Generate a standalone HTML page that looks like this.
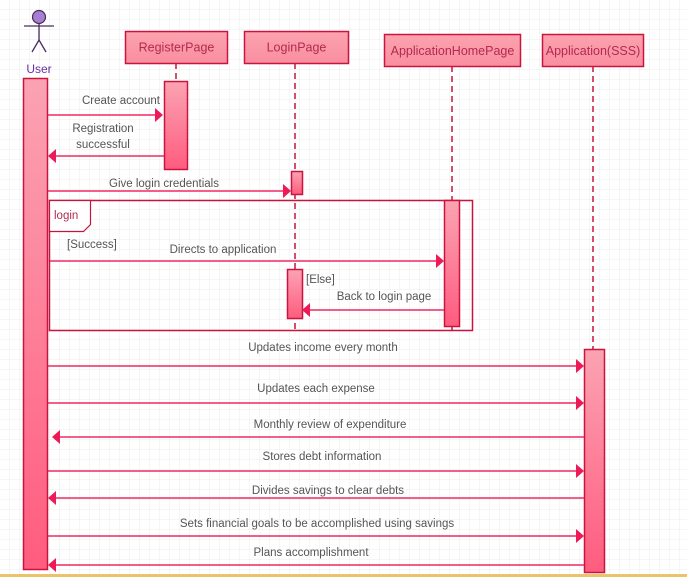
<!DOCTYPE html>
<html><head><meta charset="utf-8"><style>
html,body{margin:0;padding:0;background:#fff;}
svg{display:block;}
text{font-family:"Liberation Sans",sans-serif;font-size:11.5px;fill:#555;}
.h{font-size:12.5px;fill:#b5294d;}
</style></head><body>
<svg width="687" height="577" viewBox="0 0 687 577" xmlns="http://www.w3.org/2000/svg">
<defs>
<pattern id="g" width="10" height="10" patternUnits="userSpaceOnUse">
<path d="M10 0V10H0" fill="none" stroke="#ececec" stroke-width="1"/>
</pattern>
<linearGradient id="act" x1="0" y1="0" x2="0" y2="1">
<stop offset="0" stop-color="#fba3b2"/><stop offset="1" stop-color="#ff5c7f"/>
</linearGradient>
<linearGradient id="box" x1="0" y1="0" x2="0" y2="1">
<stop offset="0" stop-color="#fca3b0"/><stop offset="1" stop-color="#f98ea0"/>
</linearGradient>
</defs>
<rect width="687" height="577" fill="url(#g)"/>
<rect x="0" y="574" width="687" height="3" fill="#e9c46a"/>

<circle cx="39" cy="17" r="6.5" fill="#a77fd0" stroke="#4a2d5e" stroke-width="1.2"/>
<g stroke="#4a2d5e" stroke-width="1.3" fill="none">
<line x1="39" y1="23.5" x2="39" y2="40"/><line x1="24" y1="26" x2="54" y2="26"/>
<line x1="39" y1="40" x2="32" y2="52"/><line x1="39" y1="40" x2="46" y2="52"/>
</g>
<text x="39" y="73" text-anchor="middle" style="fill:#6a2ea8;font-size:12px">User</text>

<g stroke="#c8143f" stroke-width="1.5" stroke-dasharray="6,4">
<line x1="176" y1="63" x2="176" y2="172"/>
<line x1="295" y1="63" x2="295" y2="330"/>
<line x1="452" y1="66" x2="452" y2="330"/>
<line x1="593" y1="66" x2="593" y2="350"/>
</g>

<g stroke="#c8143f" stroke-width="1.5" fill="url(#box)">
<rect x="125.5" y="31.5" width="102" height="32"/>
<rect x="244.5" y="31.5" width="104" height="32"/>
<rect x="384.5" y="34.5" width="136" height="32"/>
<rect x="542.5" y="34.5" width="101" height="32"/>
</g>
<text class="h" x="176.5" y="51.5" text-anchor="middle">RegisterPage</text>
<text class="h" x="296.5" y="51.5" text-anchor="middle">LoginPage</text>
<text class="h" x="452.5" y="55" text-anchor="middle">ApplicationHomePage</text>
<text class="h" x="593" y="55" text-anchor="middle">Application(SSS)</text>

<rect x="49.5" y="200.5" width="423" height="130" fill="none" stroke="#c8143f" stroke-width="1.5"/>
<path d="M49.5 200.5H90.5V224.5L83.5 231.5H49.5Z" fill="#fff" stroke="#c8143f" stroke-width="1.2"/>
<text x="54" y="219" style="fill:#b5294d">login</text>

<g stroke="#c8143f" stroke-width="1.5" fill="url(#act)">
<rect x="23.5" y="78.5" width="24" height="491"/>
<rect x="164.5" y="81.5" width="23" height="88"/>
<rect x="291.5" y="171.5" width="11" height="23"/>
<rect x="444.5" y="200.5" width="15" height="126"/>
<rect x="287.5" y="269.5" width="15" height="49"/>
<rect x="584.5" y="349.5" width="20" height="223"/>
</g>

<g stroke="#ee2a63" stroke-width="1.5" fill="none">
<line x1="48" y1="115" x2="158" y2="115"/>
<line x1="164" y1="156" x2="56" y2="156"/>
<line x1="48" y1="191" x2="285" y2="191"/>
<line x1="50" y1="261" x2="438" y2="261"/>
<line x1="444" y1="310" x2="309" y2="310"/>
<line x1="48" y1="366" x2="578" y2="366"/>
<line x1="48" y1="403" x2="578" y2="403"/>
<line x1="584" y1="437" x2="60" y2="437"/>
<line x1="48" y1="471" x2="578" y2="471"/>
<line x1="584" y1="498" x2="56" y2="498"/>
<line x1="48" y1="536" x2="578" y2="536"/>
<line x1="584" y1="565" x2="56" y2="565"/>
</g>
<g fill="#ee1a57">
<path d="M163 115l-8-7v14z"/>
<path d="M48 156l8-7v14z"/>
<path d="M291 191l-8-7v14z"/>
<path d="M444 261l-8-7v14z"/>
<path d="M302 310l8-7v14z"/>
<path d="M584 366l-8-7v14z"/>
<path d="M584 403l-8-7v14z"/>
<path d="M52 437l8-7v14z"/>
<path d="M584 471l-8-7v14z"/>
<path d="M48 498l8-7v14z"/>
<path d="M584 536l-8-7v14z"/>
<path d="M48 565l8-7v14z"/>
</g>

<text x="121" y="104" text-anchor="middle">Create account</text>
<text x="103" y="132" text-anchor="middle">Registration</text>
<text x="103" y="148" text-anchor="middle">successful</text>
<text x="164" y="187" text-anchor="middle">Give login credentials</text>
<text x="67" y="248">[Success]</text>
<text x="223" y="253" text-anchor="middle">Directs to application</text>
<text x="306" y="283">[Else]</text>
<text x="384" y="300" text-anchor="middle">Back to login page</text>
<text x="323" y="351" text-anchor="middle">Updates income every month</text>
<text x="316" y="392" text-anchor="middle">Updates each expense</text>
<text x="330" y="428" text-anchor="middle">Monthly review of expenditure</text>
<text x="322" y="460" text-anchor="middle">Stores debt information</text>
<text x="328" y="494" text-anchor="middle">Divides savings to clear debts</text>
<text x="317" y="527" text-anchor="middle">Sets financial goals to be accomplished using savings</text>
<text x="311" y="556" text-anchor="middle">Plans accomplishment</text>
</svg>
</body></html>
